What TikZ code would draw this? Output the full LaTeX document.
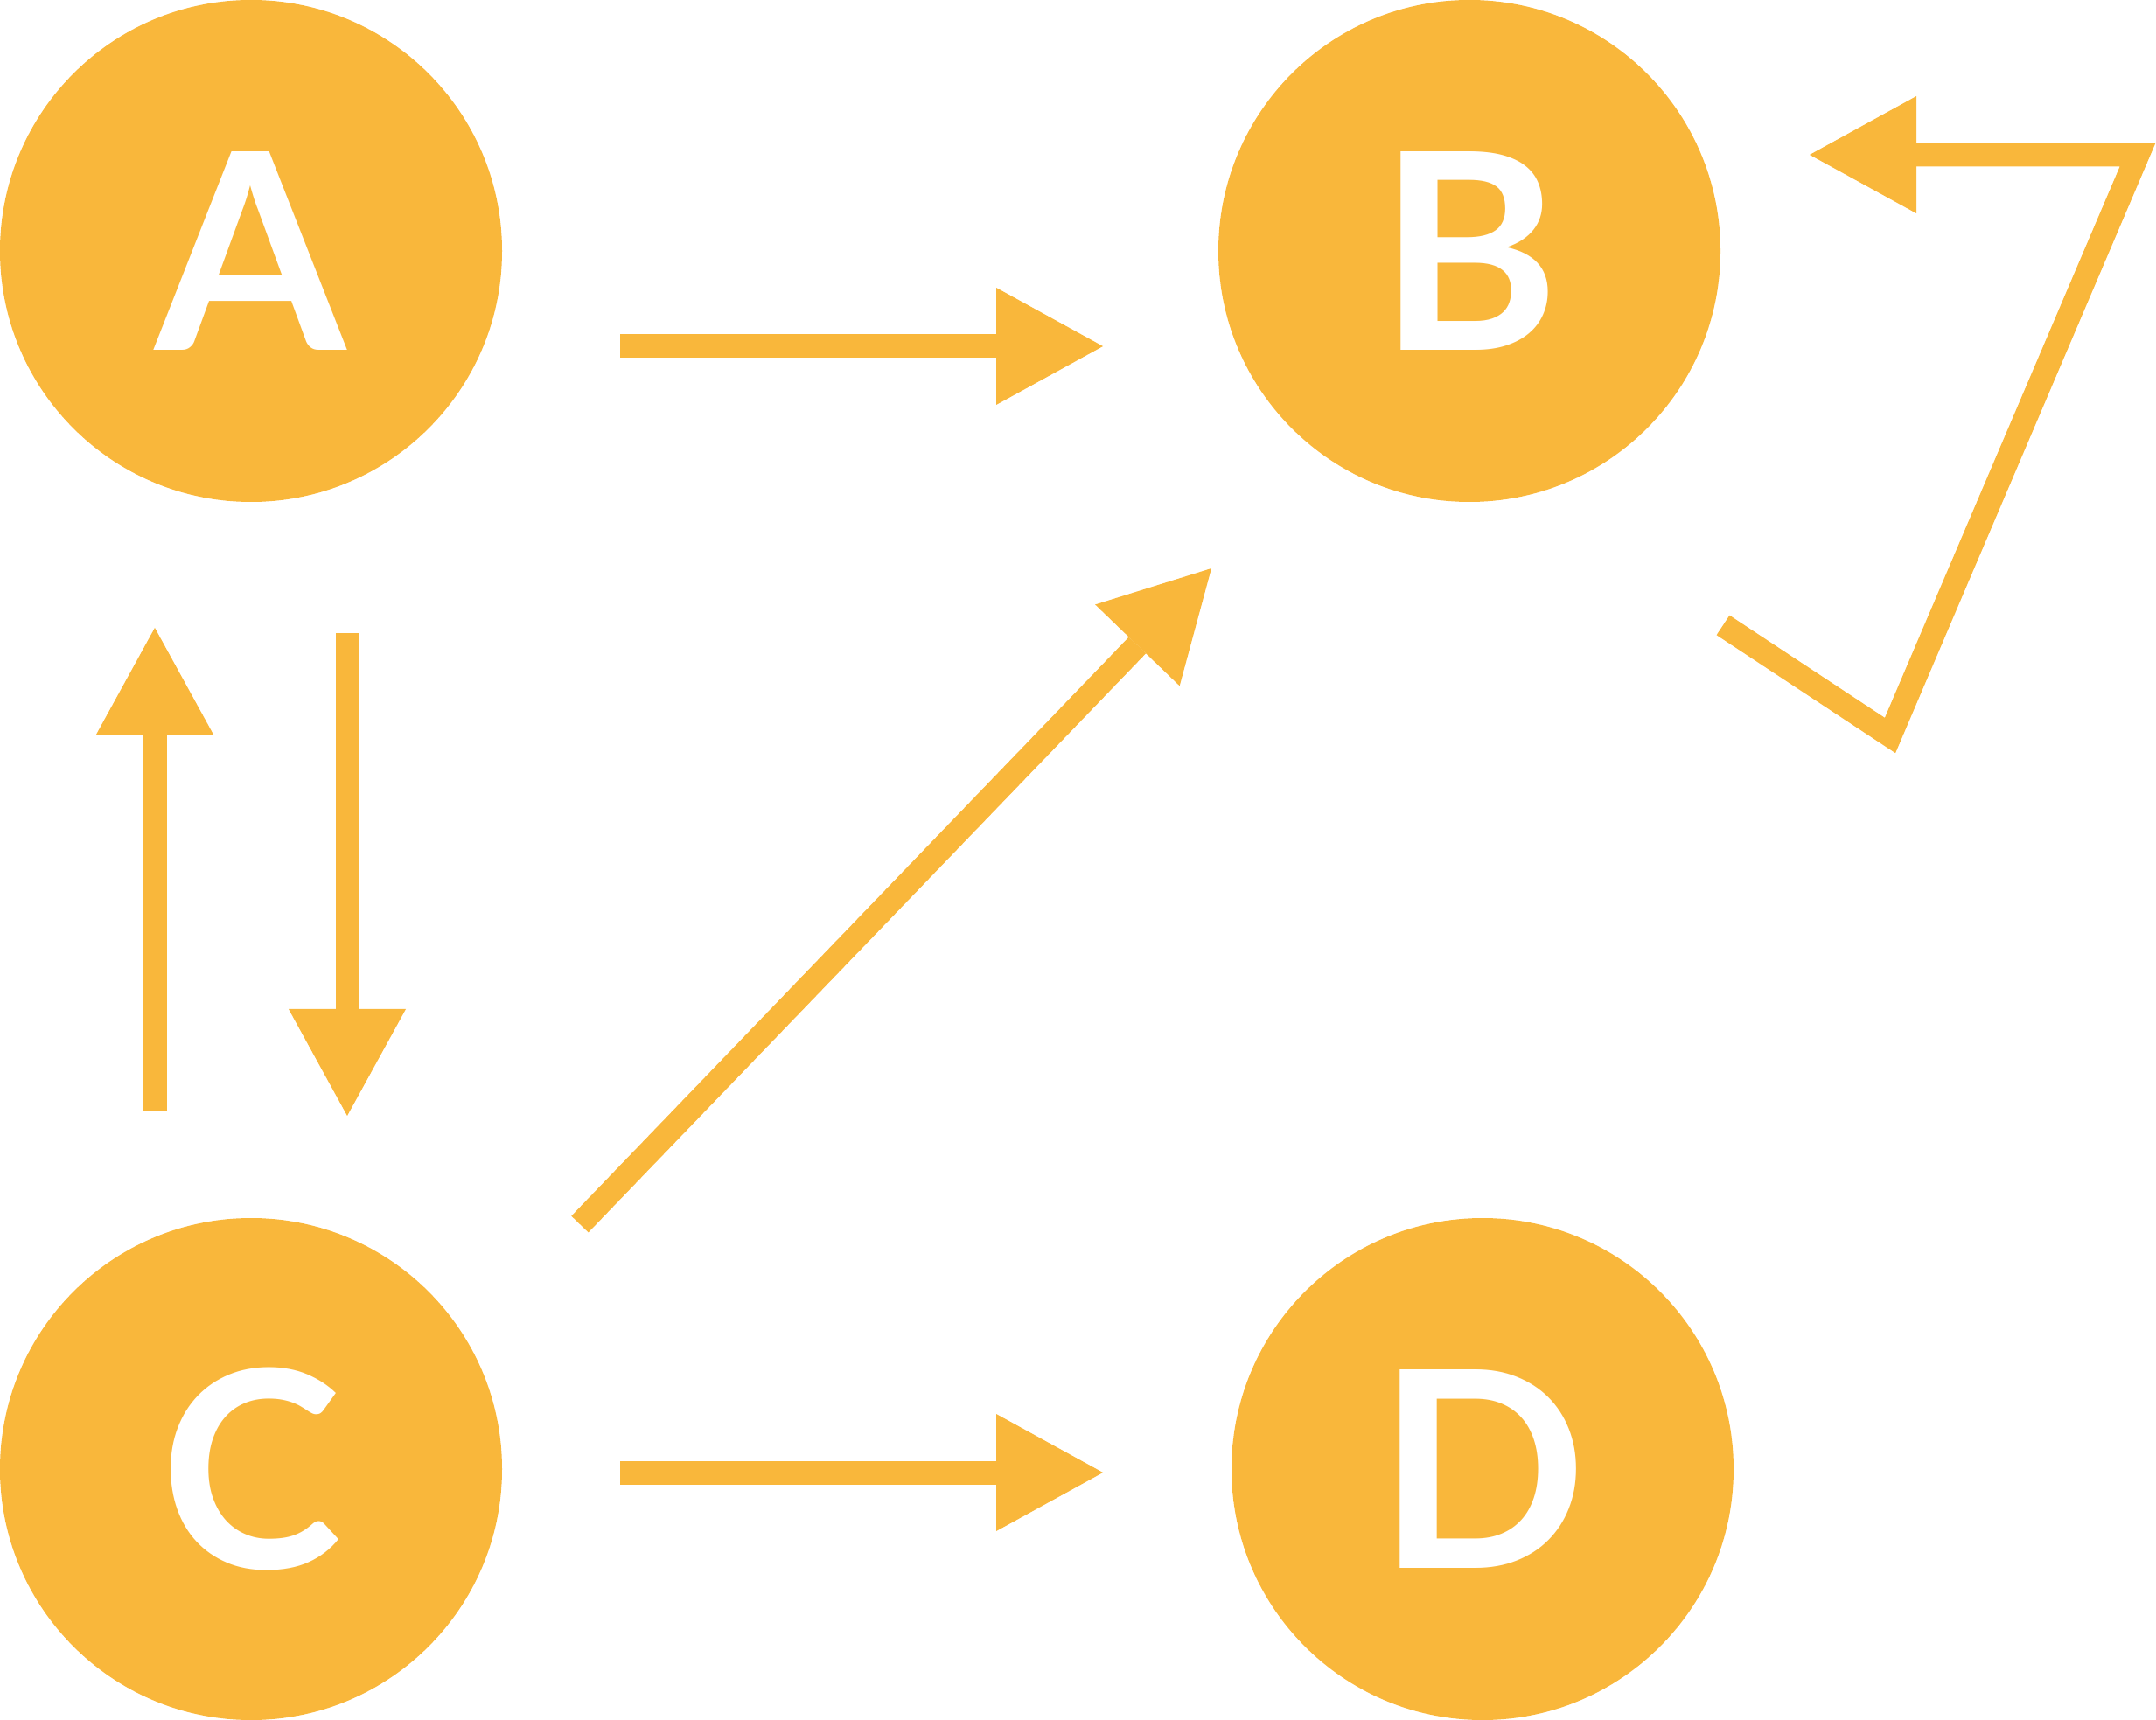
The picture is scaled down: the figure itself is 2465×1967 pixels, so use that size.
\documentclass[tikz,border=0pt]{standalone}
\usepackage{fontspec}
\setmainfont{Lato}
\usepackage{xcolor}
\usepackage{tikz}
\usetikzlibrary{arrows.meta, positioning}
\definecolor{stateorange}{RGB}{249, 183, 59}

\begin{document}
\begin{tikzpicture}[
    x=0.25pt, y=-0.25pt,
    state/.style={circle, fill=stateorange, minimum size=143.5pt, inner sep=0pt, text=white, font=\fontsize{78.5}{78.5}\selectfont\bfseries},
    arrow/.style={-{Triangle[length=30.5pt, width=33.5pt, line width=0pt]}, line width=6.75pt, color=stateorange}
]
    \useasboundingbox (0,0) rectangle (2465,1967);

    \node[state] (a) at (287,287) {A};
    \node[state] (b) at (1680,287) {B};
    \node[state] (c) at (287,1680) {C};
    \node[state] (d) at (1695,1680) {D};

    % free ends of the connectors
    \coordinate (ab-start) at (709,396);
    \coordinate (ab-end) at (1261,396);
    \coordinate (cd-start) at (709,1684);
    \coordinate (cd-end) at (1261,1684);
    \coordinate (ca-start) at (177,1270);
    \coordinate (ca-end) at (177,718);
    \coordinate (ac-start) at (397,724);
    \coordinate (ac-end) at (397,1276);
    \coordinate (cb-start) at (663,1400);
    \coordinate (cb-end) at (1385,650);
    \coordinate (bb-start) at (1970,715);
    \coordinate (bb-low) at (2161,841);
    \coordinate (bb-high) at (2444,177);
    \coordinate (bb-end) at (2069,177);

    \draw[arrow] (ab-start) -- (ab-end);
    \draw[arrow] (cd-start) -- (cd-end);
    \draw[arrow] (ca-start) -- (ca-end);
    \draw[arrow] (ac-start) -- (ac-end);
    \draw[arrow] (cb-start) -- (cb-end);
    \draw[arrow] (bb-start) -- (bb-low) -- (bb-high) -- (bb-end);
\end{tikzpicture}
\end{document}
